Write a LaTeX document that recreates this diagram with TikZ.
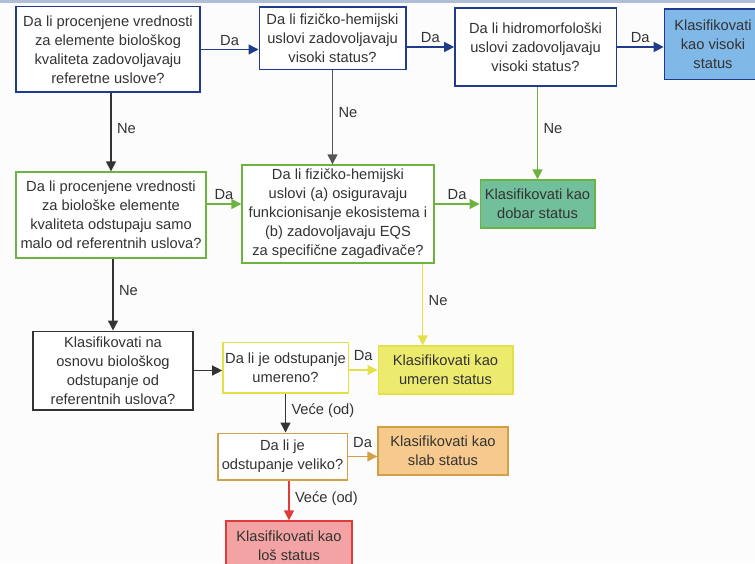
\documentclass[tikz,border=0pt]{standalone}
\usepackage{fontspec}
\setmainfont{Liberation Sans}
\usetikzlibrary{arrows.meta}

\definecolor{navy}{HTML}{1F3C8C}
\definecolor{skyfill}{HTML}{80B8E8}
\definecolor{leaf}{HTML}{6CB33F}
\definecolor{tealfill}{HTML}{72BF9B}
\definecolor{lemon}{HTML}{E3E048}
\definecolor{lemonfill}{HTML}{EDEB6E}
\definecolor{amber}{HTML}{D4A046}
\definecolor{amberfill}{HTML}{F6C98C}
\definecolor{rose}{HTML}{E03A3A}
\definecolor{rosefill}{HTML}{F3A3A3}
\definecolor{ink}{HTML}{333333}
\definecolor{slate}{HTML}{555555}
\definecolor{band}{HTML}{AFBDD6}

\begin{document}
\begin{tikzpicture}[
		x=0.75pt, y=-0.75pt,
		every node/.style={font=\fontsize{11}{14.3}\selectfont, text=ink},
		block/.style={draw, line width=1pt, fill=white, align=center, inner sep=1pt},
		arrow/.style={-{Triangle[length=7.5pt,width=7.5pt]}, line width=1pt},
		answer/.style={midway, above=1.5pt, inner sep=1pt},
		branch/.style={pos=.45, right=3pt, inner sep=1pt},
	]
		\clip (0,0) rectangle (755,563);
		\fill[white!99!black] (0,0) rectangle (755,563);
		\fill[band] (0,0) rectangle (755,3);

		\node [block, draw=navy, minimum width=138pt, minimum height=64pt] (bio q) at (108,49.5) {Da li procenjene vrednosti\\za elemente biološkog\\kvaliteta zadovoljavaju\\referetne uslove?};
		\node [block, draw=navy, minimum width=110pt, minimum height=47pt] (phys q) at (332.5,38.5) {Da li fizičko-hemijski\\uslovi zadovoljavaju\\visoki status?};
		\node [block, draw=navy, minimum width=121pt, minimum height=58.5pt] (hydro q) at (535.5,47) {Da li hidromorfološki\\uslovi zadovoljavaju\\visoki status?};
		\node [block, draw=navy, fill=skyfill, minimum width=73pt, minimum height=53pt] (high) at (713,44.5) {Klasifikovati\\kao visoki\\status};

		\node [block, draw=leaf, minimum width=142.5pt, minimum height=64.5pt] (bio dev) at (111,215) {Da li procenjene vrednosti\\za biološke elemente\\kvaliteta odstupaju samo\\malo od referentnih uslova?};
		\node [block, draw=leaf, minimum width=144pt, minimum height=73.5pt] (phys eqs) at (338,214) {Da li fizičko-hemijski\\uslovi (a) osiguravaju\\funkcionisanje ekosistema i\\(b) zadovoljavaju EQS\\za specifične zagađivače?};
		\node [block, draw=leaf, fill=tealfill, minimum width=86pt, minimum height=36pt] (good) at (537.5,204) {Klasifikovati kao\\dobar status};

		\node [block, draw=ink, minimum width=120pt, minimum height=59pt] (classify) at (113,370.5) {Klasifikovati na\\osnovu biološkog\\odstupanje od\\referentnih uslova?};
		\node [block, draw=lemon, minimum width=94pt, minimum height=38pt] (moderate q) at (285.5,367.5) {Da li je odstupanje\\umereno?};
		\node [block, draw=lemon, fill=lemonfill, minimum width=101pt, minimum height=36pt] (moderate) at (445.5,370) {Klasifikovati kao\\umeren status};
		\node [block, draw=amber, minimum width=97pt, minimum height=35pt] (large q) at (282.5,456.5) {Da li je\\odstupanje veliko?};
		\node [block, draw=amber, fill=amberfill, minimum width=97.5pt, minimum height=36pt] (weak) at (443,451) {Klasifikovati kao\\slab status};
		\node [block, draw=rose, fill=rosefill, minimum width=94.5pt, minimum height=37.5pt] (bad) at (289,546) {Klasifikovati kao\\loš status};

		% first row
		\draw[arrow, navy] (bio q) -- (bio q -| phys q.west) node[answer] {Da};
		\draw[arrow, navy] (phys q.east |- hydro q) -- (hydro q) node[answer] {Da};
		\draw[arrow, navy] (hydro q.east) -- (hydro q.east -| high.west) node[answer] {Da};

		% going down
		\draw[arrow, ink] (bio dev.north |- bio q.south) -- (bio dev.north) node[branch] {Ne};
		\draw[arrow, slate] (phys q.south) -- (phys q.south |- phys eqs.north) node[branch] {Ne};
		\draw[arrow, leaf] (good.north |- hydro q.south) -- (good.north) node[branch] {Ne};

		\draw[arrow, leaf] (bio dev.east |- good) -- (phys eqs.west |- good) node[answer] {Da};
		\draw[arrow, leaf] (phys eqs.east |- good) -- (good) node[answer] {Da};

		\draw[arrow, ink] (classify.north |- bio dev.south) -- (classify.north) node[branch] {Ne};
		\draw[arrow, lemon] ([xshift=-9pt]phys eqs.south east) -- ([xshift=-9pt]phys eqs.south east |- moderate.north) node[branch] {Ne};

		% deviation
		\draw[arrow, ink] (classify) -- (classify -| moderate q.west);
		\draw[arrow, lemon] (moderate q.east |- moderate) -- (moderate) node[answer, above=4pt] {Da};
		\draw[arrow, ink] (moderate q.south) -- (moderate q.south |- large q.north) node[branch] {Veće (od)};
		\draw[arrow, amber] (large q) -- (large q -| weak.west) node[answer, above=4pt] {Da};
		\draw[arrow, rose] (bad.north |- large q.south) -- (bad.north) node[branch] {Veće (od)};
	\end{tikzpicture}
\end{document}
